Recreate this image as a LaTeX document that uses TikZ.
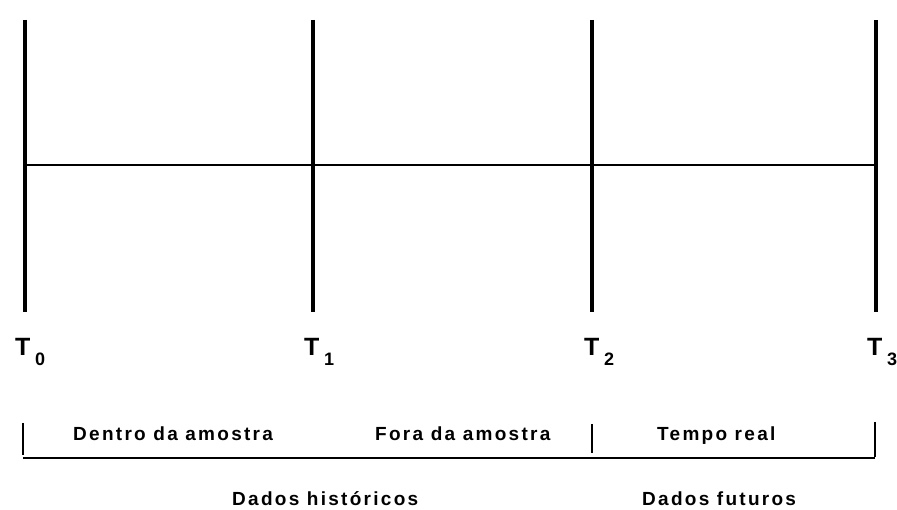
\documentclass[tikz,border=0pt]{standalone}
\usepackage{fontspec}
\setmainfont{Liberation Sans}
\newfontfamily\lblfont{Liberation Sans Bold}[LetterSpace=12]
\newfontfamily\tfont{Liberation Sans Bold}
\begin{document}
\begin{tikzpicture}[x=1pt,y=-1pt,
  vline/.style={line width=4pt},
  hline/.style={line width=2.5pt},
  baseline line/.style={line width=2pt},
  tick/.style={line width=2.5pt},
  lbl/.style={anchor=base west,inner sep=0pt,font=\lblfont\fontsize{19}{21}\selectfont},
  tlbl/.style={anchor=base west,inner sep=0pt,font=\tfont\fontsize{25}{28}\selectfont},
  tsub/.style={anchor=base west,inner sep=0pt,font=\tfont\fontsize{18}{20}\selectfont}]
\useasboundingbox (0,0) rectangle (897,510);
% vertical time lines
\coordinate (a0) at (25,20);  \coordinate (b0) at (25,312);
\coordinate (a1) at (313,20); \coordinate (b1) at (313,312);
\coordinate (a2) at (592,20); \coordinate (b2) at (592,312);
\coordinate (a3) at (876,20); \coordinate (b3) at (876,312);
\draw[vline] (a0) -- (b0);
\draw[vline] (a1) -- (b1);
\draw[vline] (a2) -- (b2);
\draw[vline] (a3) -- (b3);
\coordinate (h0) at (25,165); \coordinate (h3) at (876,165);
\draw[hline] (h0) -- (h3);
% T labels
\node[tlbl] (t0) at (15,356) {T};
\node[tsub] (s0) at (35,366) {0};
\node[tlbl] (t1) at (304,356) {T};
\node[tsub] (s1) at (324,366) {1};
\node[tlbl] (t2) at (584,356) {T};
\node[tsub] (s2) at (604,366) {2};
\node[tlbl] (t3) at (867,356) {T};
\node[tsub] (s3) at (887,366) {3};
% bottom scale
\coordinate (l0) at (23,458); \coordinate (l3) at (875,458);
\draw[baseline line] (l0) -- (l3);
\coordinate (k0a) at (23,423); \coordinate (k0b) at (23,455);
\coordinate (k2a) at (592,424); \coordinate (k2b) at (592,453);
\coordinate (k3a) at (875,422); \coordinate (k3b) at (875,457);
\draw[tick] (k0a) -- (k0b);
\draw[line width=1.5pt] (k2a) -- (k2b);
\draw[tick] (k3a) -- (k3b);
% labels
\node[lbl] (dentro) at (73,441) {Dentro da amostra};
\node[lbl] (fora) at (375,441) {Fora da amostra};
\node[lbl] (tempo) at (657,441) {Tempo real};
\node[lbl] (hist) at (232,505) {Dados históricos};
\node[lbl] (fut) at (642,505) {Dados futuros};
\end{tikzpicture}
\end{document}
